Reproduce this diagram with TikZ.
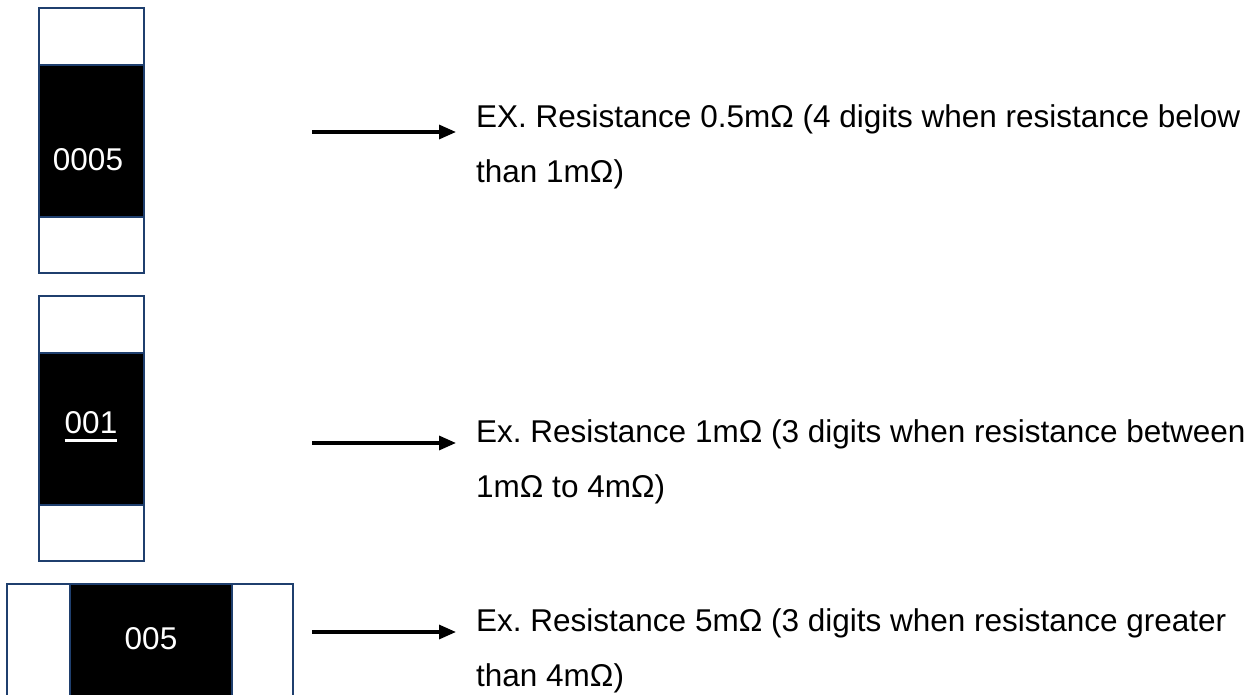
\documentclass[tikz,border=0pt]{standalone}
\usepackage{fontspec}
\setmainfont{Liberation Sans}
\usetikzlibrary{arrows.meta}
\definecolor{rborder}{HTML}{1F3F6E}
\frenchspacing
\begin{document}
\begin{tikzpicture}[x=1pt,y=-1pt,
  endcap/.style={draw=rborder,line width=1.6pt,fill=white},
  body/.style={draw=rborder,line width=1.6pt,fill=black},
  code/.style={text=white,font=\fontsize{31.5}{36}\selectfont,inner sep=0pt},
  desc/.style={anchor=base west,align=left,inner sep=0pt,font=\fontsize{31.5}{55}\selectfont},
  arr/.style={line width=3.2pt,-{Triangle[length=17pt,width=14pt]}}]
\useasboundingbox (0,0) rectangle (1255,695);
\begin{scope}
\clip (0,0) rectangle (1255,695);
% resistor 1
\path[endcap] (39,8) rectangle (144,273);
\path[body] (39,65) rectangle (144,217);
\node[code] (c1) at (88,160) {0005};
% resistor 2
\path[endcap] (39,296) rectangle (144,561);
\path[body] (39,353) rectangle (144,505);
\node[code] (c2) at (91,423) {001};
\draw[white,line width=2.6pt] ([yshift=-6pt]c2.south west) -- ([yshift=-6pt]c2.south east);
% resistor 3
\path[endcap] (7,584) rectangle (293,710);
\path[body] (70,584) rectangle (232,710);
\node[code] (c3) at (151,639) {005};
\end{scope}
% descriptions
\node[desc] (t1) at (476,183) {EX. Resistance 0.5mΩ (4 digits when resistance below\\than 1mΩ)};
\node[desc] (t2) at (476,497) {Ex. Resistance 1mΩ (3 digits when resistance between\\1mΩ to 4mΩ)};
\node[desc] (t3) at (476,686) {Ex. Resistance 5mΩ (3 digits when resistance greater\\than 4mΩ)};
% arrows
\coordinate (s1) at (312,132); \coordinate (e1) at (456,132);
\coordinate (s2) at (312,443); \coordinate (e2) at (456,443);
\coordinate (s3) at (312,632); \coordinate (e3) at (456,632);
\draw[arr] (s1) -- (e1);
\draw[arr] (s2) -- (e2);
\draw[arr] (s3) -- (e3);
\end{tikzpicture}
\end{document}
